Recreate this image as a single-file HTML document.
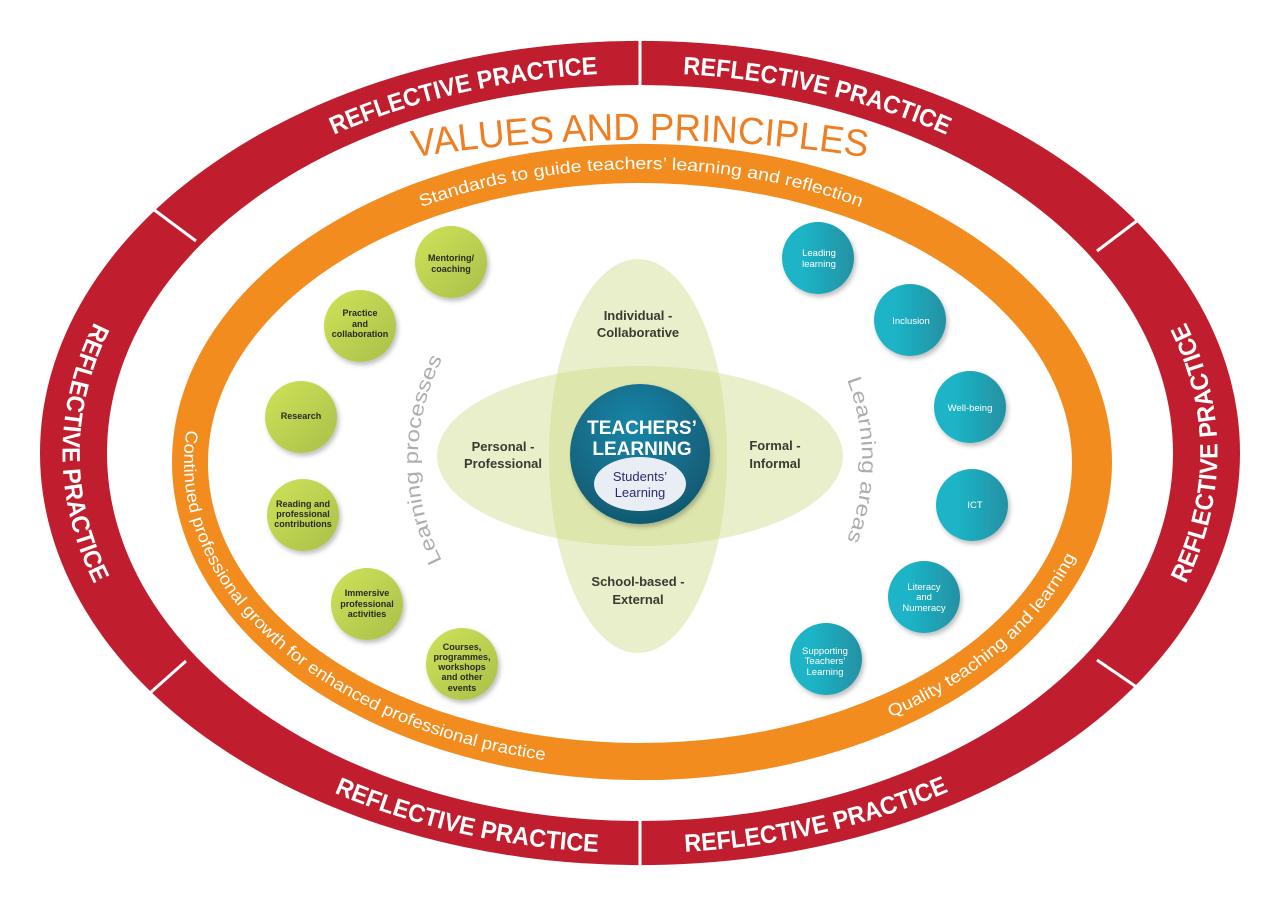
<!DOCTYPE html>
<html><head><meta charset="utf-8"><style>
html,body{margin:0;padding:0;background:#fff;}
svg{display:block;}
text{font-family:"Liberation Sans",sans-serif;}
</style></head><body>
<svg width="1280" height="905" viewBox="0 0 1280 905" xmlns="http://www.w3.org/2000/svg">
<defs>
<linearGradient id="gg" x1="0" y1="0" x2="1" y2="1"><stop offset="0" stop-color="#d0e258"/><stop offset="1" stop-color="#a8c04a"/></linearGradient>
<linearGradient id="tg" x1="0" y1="0" x2="1" y2="0"><stop offset="0.3" stop-color="#1ab4c6"/><stop offset="1" stop-color="#2491a3"/></linearGradient>
<radialGradient id="cg" cx="0.45" cy="0.3" r="0.75"><stop offset="0" stop-color="#1a86a8"/><stop offset="1" stop-color="#10566e"/></radialGradient>
<filter id="sh" x="-30%" y="-30%" width="160%" height="160%"><feDropShadow dx="2" dy="3" stdDeviation="2.5" flood-color="#000" flood-opacity="0.25"/></filter>
<path id="rTL" d="M155,263 A560 380 0 0 1 640,73"/>
<path id="rTR" d="M640,73 A560 380 0 0 1 1125,263"/>
<path id="rBL" d="M138,653 A580 400 0 0 0 640,853"/>
<path id="rBR" d="M640,853 A580 400 0 0 0 1142,653"/>
<path id="rL" d="M140,253 A578 400 0 0 0 140,653"/>
<path id="rR" d="M1140,653 A578 400 0 0 0 1140,253"/>
<path id="oTop" d="M196,462 A445 293 0 0 1 1086,462"/>
<path id="oCcw" d="M641,157 A457 305 0 0 0 641,767 A457 305 0 0 0 641,157"/>
<path id="vp" d="M-60,462 A700 322 0 0 1 1340,462"/>
<path id="lc" d="M640,682 A222 222 0 1 1 640,238 A222 222 0 1 1 640,682"/>
</defs>

<path fill="#c01e2f" fill-rule="evenodd" d="M40,453 A600 412 0 1 1 1240,453 A600 412 0 1 1 40,453 Z M107,453 A533 368 0 1 0 1173,453 A533 368 0 1 0 107,453 Z"/>
<g stroke="#fff" stroke-width="3">
<line x1="640" y1="38" x2="640" y2="88"/>
<line x1="640" y1="818" x2="640" y2="868"/>
<line x1="153" y1="209" x2="196" y2="241"/>
<line x1="1138" y1="220" x2="1097" y2="251"/>
<line x1="1097" y1="660" x2="1138" y2="688"/>
<line x1="150" y1="693" x2="186" y2="661"/>
</g>
<g fill="#fff" font-weight="bold" font-size="25">
<text><textPath href="#rTL" startOffset="494" text-anchor="end" textLength="272" lengthAdjust="spacingAndGlyphs">REFLECTIVE PRACTICE</textPath></text>
<text><textPath href="#rTR" startOffset="43" textLength="272" lengthAdjust="spacingAndGlyphs">REFLECTIVE PRACTICE</textPath></text>
<text><textPath href="#rBL" startOffset="515" text-anchor="end" textLength="272" lengthAdjust="spacingAndGlyphs">REFLECTIVE PRACTICE</textPath></text>
<text><textPath href="#rBR" startOffset="45" textLength="272" lengthAdjust="spacingAndGlyphs">REFLECTIVE PRACTICE</textPath></text>
<text><textPath href="#rL" startOffset="50%" text-anchor="middle" textLength="272" lengthAdjust="spacingAndGlyphs">REFLECTIVE PRACTICE</textPath></text>
<text><textPath href="#rR" startOffset="50%" text-anchor="middle" textLength="272" lengthAdjust="spacingAndGlyphs">REFLECTIVE PRACTICE</textPath></text>
</g>

<text fill="#ef7d22" font-size="38"><textPath href="#vp" startOffset="50%" text-anchor="middle" textLength="455" lengthAdjust="spacingAndGlyphs">VALUES AND PRINCIPLES</textPath></text>

<path fill="#f28c1f" fill-rule="evenodd" d="M172,462 A470 318 0 1 1 1112,462 A470 318 0 1 1 172,462 Z M208,463 A432 280 0 1 0 1072,463 A432 280 0 1 0 208,463 Z"/>
<g fill="#fff" font-size="17">
<text><textPath href="#oTop" startOffset="50%" text-anchor="middle" textLength="448" lengthAdjust="spacingAndGlyphs">Standards to guide teachers’ learning and reflection</textPath></text>
<text><textPath href="#oCcw" startOffset="572" textLength="540" lengthAdjust="spacingAndGlyphs">Continued professional growth for enhanced professional practice</textPath></text>
<text><textPath href="#oCcw" startOffset="1465" textLength="250" lengthAdjust="spacingAndGlyphs">Quality teaching and learning</textPath></text>
</g>

<g fill="#adadad" font-size="20">
<text><textPath href="#lc" startOffset="349" text-anchor="middle" textLength="210" lengthAdjust="spacingAndGlyphs">Learning processes</textPath></text>
<text><textPath href="#lc" startOffset="1046" text-anchor="middle" textLength="165" lengthAdjust="spacingAndGlyphs">Learning areas</textPath></text>
</g>

<g fill="#cfdc8a" fill-opacity="0.45">
<ellipse cx="638" cy="456" rx="89" ry="197"/>
<ellipse cx="640" cy="456" rx="203" ry="90"/>
</g>
<g fill="#3a3a32" font-weight="bold" font-size="13" text-anchor="middle">
<text x="638" y="320">Individual -</text><text x="638" y="337">Collaborative</text>
<text x="503" y="451">Personal -</text><text x="503" y="468">Professional</text>
<text x="775" y="450">Formal -</text><text x="775" y="468">Informal</text>
<text x="638" y="586">School-based -</text><text x="638" y="604">External</text>
</g>
<circle cx="640" cy="454" r="70" fill="url(#cg)" filter="url(#sh)"/>
<g fill="#fff" font-weight="bold" font-size="19" text-anchor="middle">
<text x="642" y="434">TEACHERS’</text><text x="642" y="455">LEARNING</text>
</g>
<ellipse cx="640" cy="484" rx="46" ry="27" fill="#e8eef4"/>
<g fill="#2b2a6e" font-size="13" text-anchor="middle">
<text x="640" y="481">Students’</text><text x="640" y="497">Learning</text>
</g>

<g filter="url(#sh)" fill="url(#gg)">
<circle cx="451" cy="262" r="36"/><circle cx="360" cy="326" r="36"/><circle cx="301" cy="417" r="36"/>
<circle cx="303" cy="515" r="36"/><circle cx="367" cy="604" r="36"/><circle cx="462" cy="664" r="36"/>
</g>
<g fill="#2a2a22" font-weight="bold" font-size="9" text-anchor="middle">
<text x="451" y="261">Mentoring/</text><text x="451" y="272">coaching</text>
<text x="360" y="316">Practice</text><text x="360" y="327">and</text><text x="360" y="337">collaboration</text>
<text x="301" y="419">Research</text>
<text x="303" y="507">Reading and</text><text x="303" y="517">professional</text><text x="303" y="527">contributions</text>
<text x="367" y="596">Immersive</text><text x="367" y="607">professional</text><text x="367" y="617">activities</text>
<text x="462" y="650">Courses,</text><text x="462" y="660">programmes,</text><text x="462" y="670">workshops</text><text x="462" y="680">and other</text><text x="462" y="691">events</text>
</g>

<g filter="url(#sh)" fill="url(#tg)">
<circle cx="818" cy="258" r="36"/><circle cx="910" cy="320" r="36"/><circle cx="970" cy="407" r="36"/>
<circle cx="972" cy="505" r="36"/><circle cx="924" cy="597" r="36"/><circle cx="826" cy="659" r="36"/>
</g>
<g fill="#fff" font-size="9.5" text-anchor="middle">
<text x="819" y="256">Leading</text><text x="819" y="267">learning</text>
<text x="911" y="324">Inclusion</text>
<text x="970" y="411">Well-being</text>
<text x="975" y="508">ICT</text>
<text x="924" y="590">Literacy</text><text x="924" y="600">and</text><text x="924" y="611">Numeracy</text>
<text x="825" y="654">Supporting</text><text x="825" y="664">Teachers’</text><text x="825" y="675">Learning</text>
</g>
</svg>
</body></html>
